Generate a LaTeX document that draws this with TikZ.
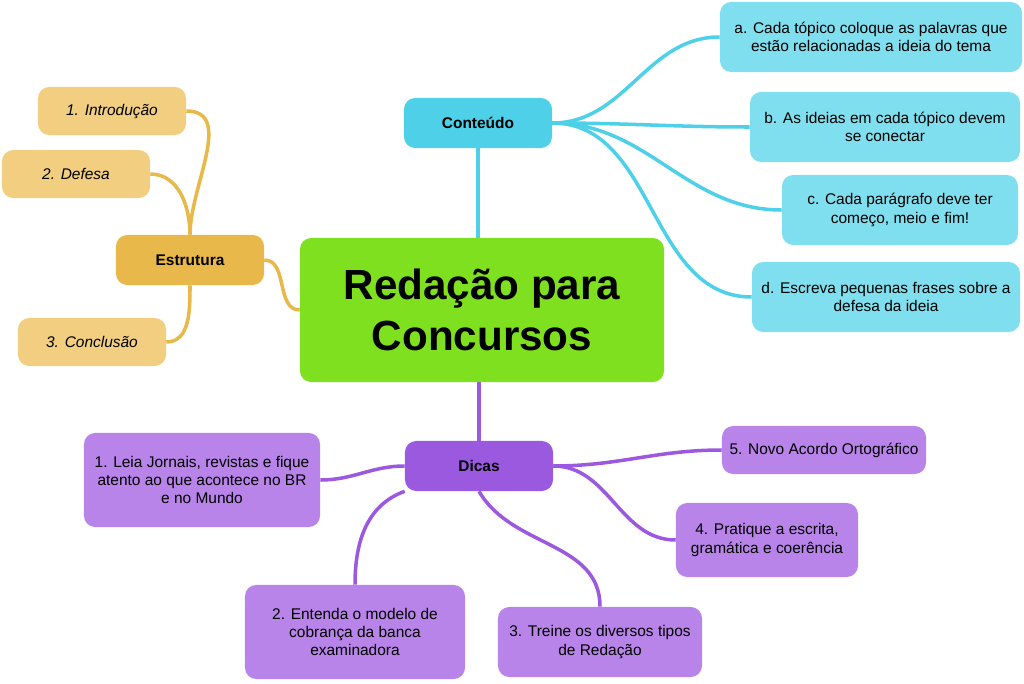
\documentclass[tikz,border=0pt]{standalone}
\usepackage{fontspec}
\setmainfont{Liberation Sans}
\usetikzlibrary{positioning,backgrounds}
\definecolor{mainc}{HTML}{7EE01E}
\definecolor{cyanc}{HTML}{4DD0E8}
\definecolor{cyanl}{HTML}{7FDFEE}
\definecolor{orac}{HTML}{E8B84A}
\definecolor{oral}{HTML}{F2CF80}
\definecolor{purc}{HTML}{9B59E0}
\definecolor{purl}{HTML}{B884EA}
\tikzset{
  box/.style={rounded corners=8pt, align=center, inner sep=0pt, font=\fontsize{11}{13}\selectfont},
  topic/.style={box, minimum width=3.7cm, minimum height=1.25cm, font=\bfseries\fontsize{11}{13}\selectfont},
  ital/.style={box, fill=oral, minimum width=3.7cm, minimum height=1.2cm, font=\itshape\fontsize{11}{13}\selectfont},
  link/.style={line width=2.5pt}
}
\begin{document}
\begin{tikzpicture}[x=0.025cm,y=-0.025cm]
  \useasboundingbox (0,0) rectangle (1024,683);

  % central idea
  \node[box, fill=mainc, minimum width=9.1cm, minimum height=3.6cm,
    font=\bfseries\fontsize{30}{36}\selectfont] (main) at (482,310) {Redação para\\Concursos};

  % main topics
  \node[topic, fill=cyanc] (cont) at (478,123) {Conteúdo};
  \node[topic, fill=orac] (estr) at (190,260) {Estrutura};
  \node[topic, fill=purc] (dicas) at (479,466) {Dicas};

  % conteudo leaves
  \node[box, fill=cyanl, minimum width=7.55cm, minimum height=1.75cm] (ca) at (871,37) {a. Cada tópico coloque as palavras que\\estão relacionadas a ideia do tema};
  \node[box, fill=cyanl, minimum width=6.75cm, minimum height=1.75cm] (cb) at (885,127) {b. As ideias em cada tópico devem\\se conectar};
  \node[box, fill=cyanl, minimum width=5.9cm, minimum height=1.75cm] (cc) at (900,210) {c. Cada parágrafo deve ter\\começo, meio e fim!};
  \node[box, fill=cyanl, minimum width=6.7cm, minimum height=1.75cm] (cd) at (886,297) {d. Escreva pequenas frases sobre a\\defesa da ideia};

  % estrutura leaves
  \node[ital] (e1) at (112,111) {1. Introdução};
  \node[ital] (e2) at (76,174) {2. Defesa};
  \node[ital] (e3) at (92,342) {3. Conclusão};

  % dicas leaves
  \node[box, fill=purl, minimum width=5.9cm, minimum height=2.35cm] (d1) at (202,480) {1. Leia Jornais, revistas e fique\\atento ao que acontece no BR\\e no Mundo};
  \node[box, fill=purl, minimum width=5.5cm, minimum height=2.35cm] (d2) at (355,632) {2. Entenda o modelo de\\cobrança da banca\\examinadora};
  \node[box, fill=purl, minimum width=5.1cm, minimum height=1.75cm] (d3) at (600,642) {3. Treine os diversos tipos\\de Redação};
  \node[box, fill=purl, minimum width=4.55cm, minimum height=1.85cm] (d4) at (767,540) {4. Pratique a escrita,\\gramática e coerência};
  \node[box, fill=purl, minimum width=5.1cm, minimum height=1.2cm] (d5) at (824,450) {5. Novo Acordo Ortográfico};

  % links
  \begin{scope}[on background layer]
  \draw[link, cyanc] (main.north -| cont) -- (cont);
  \draw[link, purc] (main.south -| dicas) -- (dicas);
  \draw[link, orac] (main.west) to[out=180,in=0] (estr.east);
  \foreach \n in {ca,cb,cc,cd}
    \draw[link, cyanc] (cont.east) to[out=0,in=180] (\n.west);
  \foreach \n in {e1,e2}
    \draw[link, orac] (estr.north) to[out=90,in=0] (\n.east);
  \draw[link, orac] (estr.south) to[out=-90,in=0] (e3.east);
  \draw[link, purc] (dicas.west) to[out=180,in=0] (d1.east);
  \draw[link, purc] (dicas.east) to[out=0,in=180] (d5.west);
  \draw[link, purc] (dicas.east) to[out=0,in=180] (d4.west);
  \draw[link, purc] (dicas.south west) to[out=200,in=90] (d2.north);
  \draw[link, purc] (dicas.south) to[out=-60,in=90] (d3.north);
  \end{scope}
\end{tikzpicture}
\end{document}
